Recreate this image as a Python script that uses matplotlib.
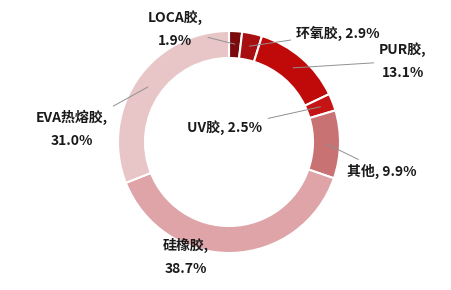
import numpy as np
import matplotlib.pyplot as plt

plt.rcParams['font.family'] = ['Noto Sans CJK SC', 'DejaVu Sans']

# 数据
labels = ['LOCA胶', '环氧胶', 'PUR胶', 'UV胶', '其他', '硅橡胶', 'EVA热熔胶']
values = [1.9, 2.9, 13.1, 2.5, 9.9, 38.7, 31.0]
colors = ['#7b0a0c', '#a80f10', '#c00a0a', '#c41414', '#c97274', '#dea4a7', '#e8c6c8']

# label text layout (pixel coords, y from top)
txt_pos = [(175, 29), (338, 33), (403, 61), (225, 128), (382, 171), (186, 257), (72, 129)]
txt_fmt = ['{},\n{}%', '{}, {}%', '{},\n{}%', '{}, {}%', '{}, {}%', '{},\n{}%', '{},\n{}%']
has_line = [True, True, True, True, True, False, True]

W, H = 451, 290
cx, cy, R = 229, H - 142, 111

fig = plt.figure(figsize=(W / 100, H / 100), dpi=100)
ax = fig.add_axes([0, 0, 1, 1])

wedges, _ = ax.pie(values, colors=colors, startangle=90, counterclock=False,
                   center=(cx, cy), radius=R, frame=True,
                   wedgeprops=dict(width=27, edgecolor='white', linewidth=1.5))
ax.set_xlim(0, W)
ax.set_ylim(0, H)
ax.set_aspect('equal')
ax.axis('off')

for w, lab, v, (tx, ty), fmt, ln in zip(wedges, labels, values, txt_pos, txt_fmt, has_line):
    ang = np.deg2rad((w.theta1 + w.theta2) / 2)
    r = R - 13
    px, py = cx + r * np.cos(ang), cy + r * np.sin(ang)
    txt = fmt.format(lab, v)
    kw = dict(ha='center', va='center', fontsize=10, fontweight='bold',
              color='#1a1a1a', linespacing=1.8)
    if ln:
        ax.annotate(txt, xy=(px, py), xytext=(tx, H - ty),
                    arrowprops=dict(arrowstyle='-', color='#909090', lw=0.7,
                                    shrinkA=2, shrinkB=0), **kw)
    else:
        ax.text(tx, H - ty, txt, **kw)

fig.savefig('out.png', dpi=100, facecolor='white')
